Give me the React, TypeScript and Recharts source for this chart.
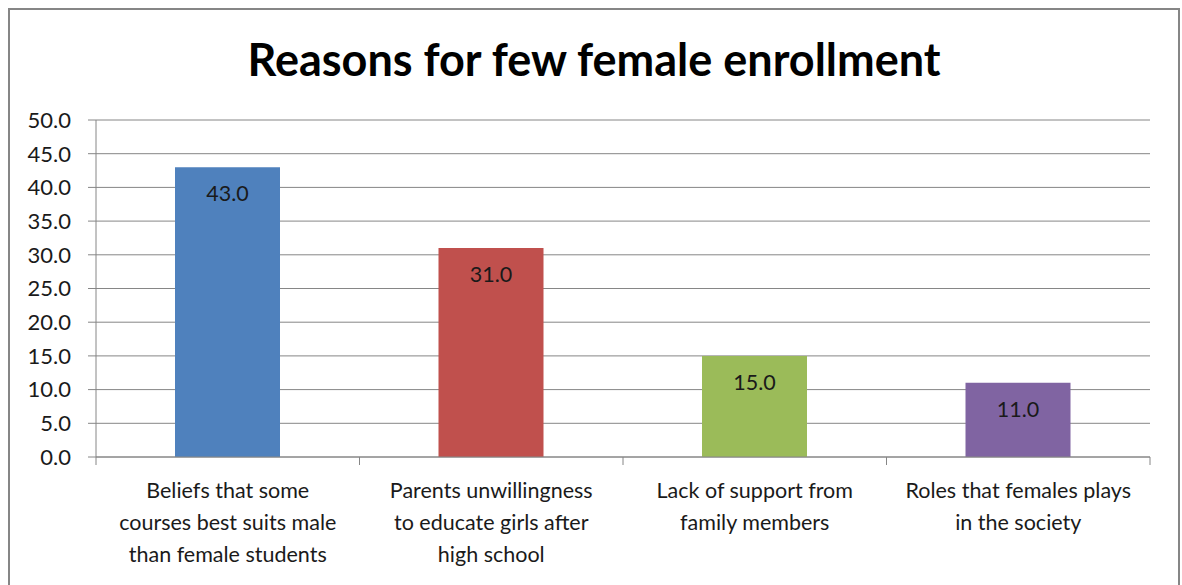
import { BarChart, Bar, XAxis, YAxis, CartesianGrid, LabelList, Cell } from "recharts";

const categories = [
  "Beliefs that some\ncourses best suits male\nthan female students",
  "Parents unwillingness\nto educate girls after\nhigh school",
  "Lack of support from\nfamily members",
  "Roles that females plays\nin the society",
];
const values = [43.0, 31.0, 15.0, 11.0];
const barColors = ["#4F81BD", "#C0504D", "#9BBB59", "#8064A2"];
const yTicks = [0, 5, 10, 15, 20, 25, 30, 35, 40, 45, 50];

const data = categories.map((name, i) => ({ name, value: values[i] }));

const FONT = "Lato, 'Open Sans', sans-serif";
const GRAY = "#868686";
const CHART_W = 1168;
const CHART_H = 590;
const MARGIN = { top: 110, right: 28, left: 0, bottom: 0 };
const Y_WIDTH = 86;
const BAND = (CHART_W - MARGIN.left - MARGIN.right - Y_WIDTH) / categories.length;

// ticks between the categories, label lines below
function CategoryTick(props: any) {
  const { x, y, payload, index } = props;
  const lines = String(payload.value).split("\n");
  const half = BAND / 2;
  return (
    <g>
      <line x1={x - half} x2={x - half} y1={y} y2={y + 8} stroke={GRAY} />
      {index === categories.length - 1 && (
        <line x1={x + half} x2={x + half} y1={y} y2={y + 8} stroke={GRAY} />
      )}
      <text x={x} y={y + 41} textAnchor="middle" fontFamily={FONT} fontSize={21.5} fill="#1a1a1a">
        {lines.map((l, i) => (
          <tspan key={i} x={x} dy={i === 0 ? 0 : 32}>
            {l}
          </tspan>
        ))}
      </text>
    </g>
  );
}

export default function App() {
  return (
    <div
      style={{
        position: "fixed",
        left: 8,
        top: 8,
        width: CHART_W + 4,
        height: 577,
        overflow: "hidden",
      }}
    >
      <div
        style={{
          position: "relative",
          width: CHART_W,
          height: CHART_H,
          border: `2px solid ${GRAY}`,
          background: "#fff",
        }}
      >
        <div
          style={{
            position: "absolute",
            left: 0,
            right: 0,
            top: 22,
            textAlign: "center",
            fontFamily: FONT,
            fontWeight: 700,
            fontSize: 45,
            color: "#000",
            lineHeight: "54px",
          }}
        >
          Reasons for few female enrollment
        </div>
        <BarChart width={CHART_W} height={CHART_H} data={data} margin={MARGIN}>
          <CartesianGrid vertical={false} stroke={GRAY} strokeWidth={1} />
          <XAxis
            dataKey="name"
            interval={0}
            height={143}
            axisLine={{ stroke: GRAY }}
            tickLine={false}
            tickSize={0}
            tickMargin={0}
            tick={<CategoryTick />}
          />
          <YAxis
            width={Y_WIDTH}
            domain={[0, 50]}
            ticks={yTicks}
            interval={0}
            tickFormatter={(v: number) => v.toFixed(1)}
            axisLine={{ stroke: GRAY }}
            tickLine={{ stroke: GRAY }}
            tickSize={8}
            tickMargin={17}
            tick={{ fontFamily: FONT, fontSize: 22, fill: "#1a1a1a" }}
          />
          <Bar dataKey="value" barSize={105} isAnimationActive={false}>
            {data.map((d, i) => (
              <Cell key={d.name} fill={barColors[i]} />
            ))}
            <LabelList
              dataKey="value"
              position="insideTop"
              offset={19}
              formatter={(v: any) => Number(v).toFixed(1)}
              style={{ fontFamily: FONT, fontSize: 21.5, fill: "#1a1a1a" }}
            />
          </Bar>
        </BarChart>
      </div>
    </div>
  );
}
